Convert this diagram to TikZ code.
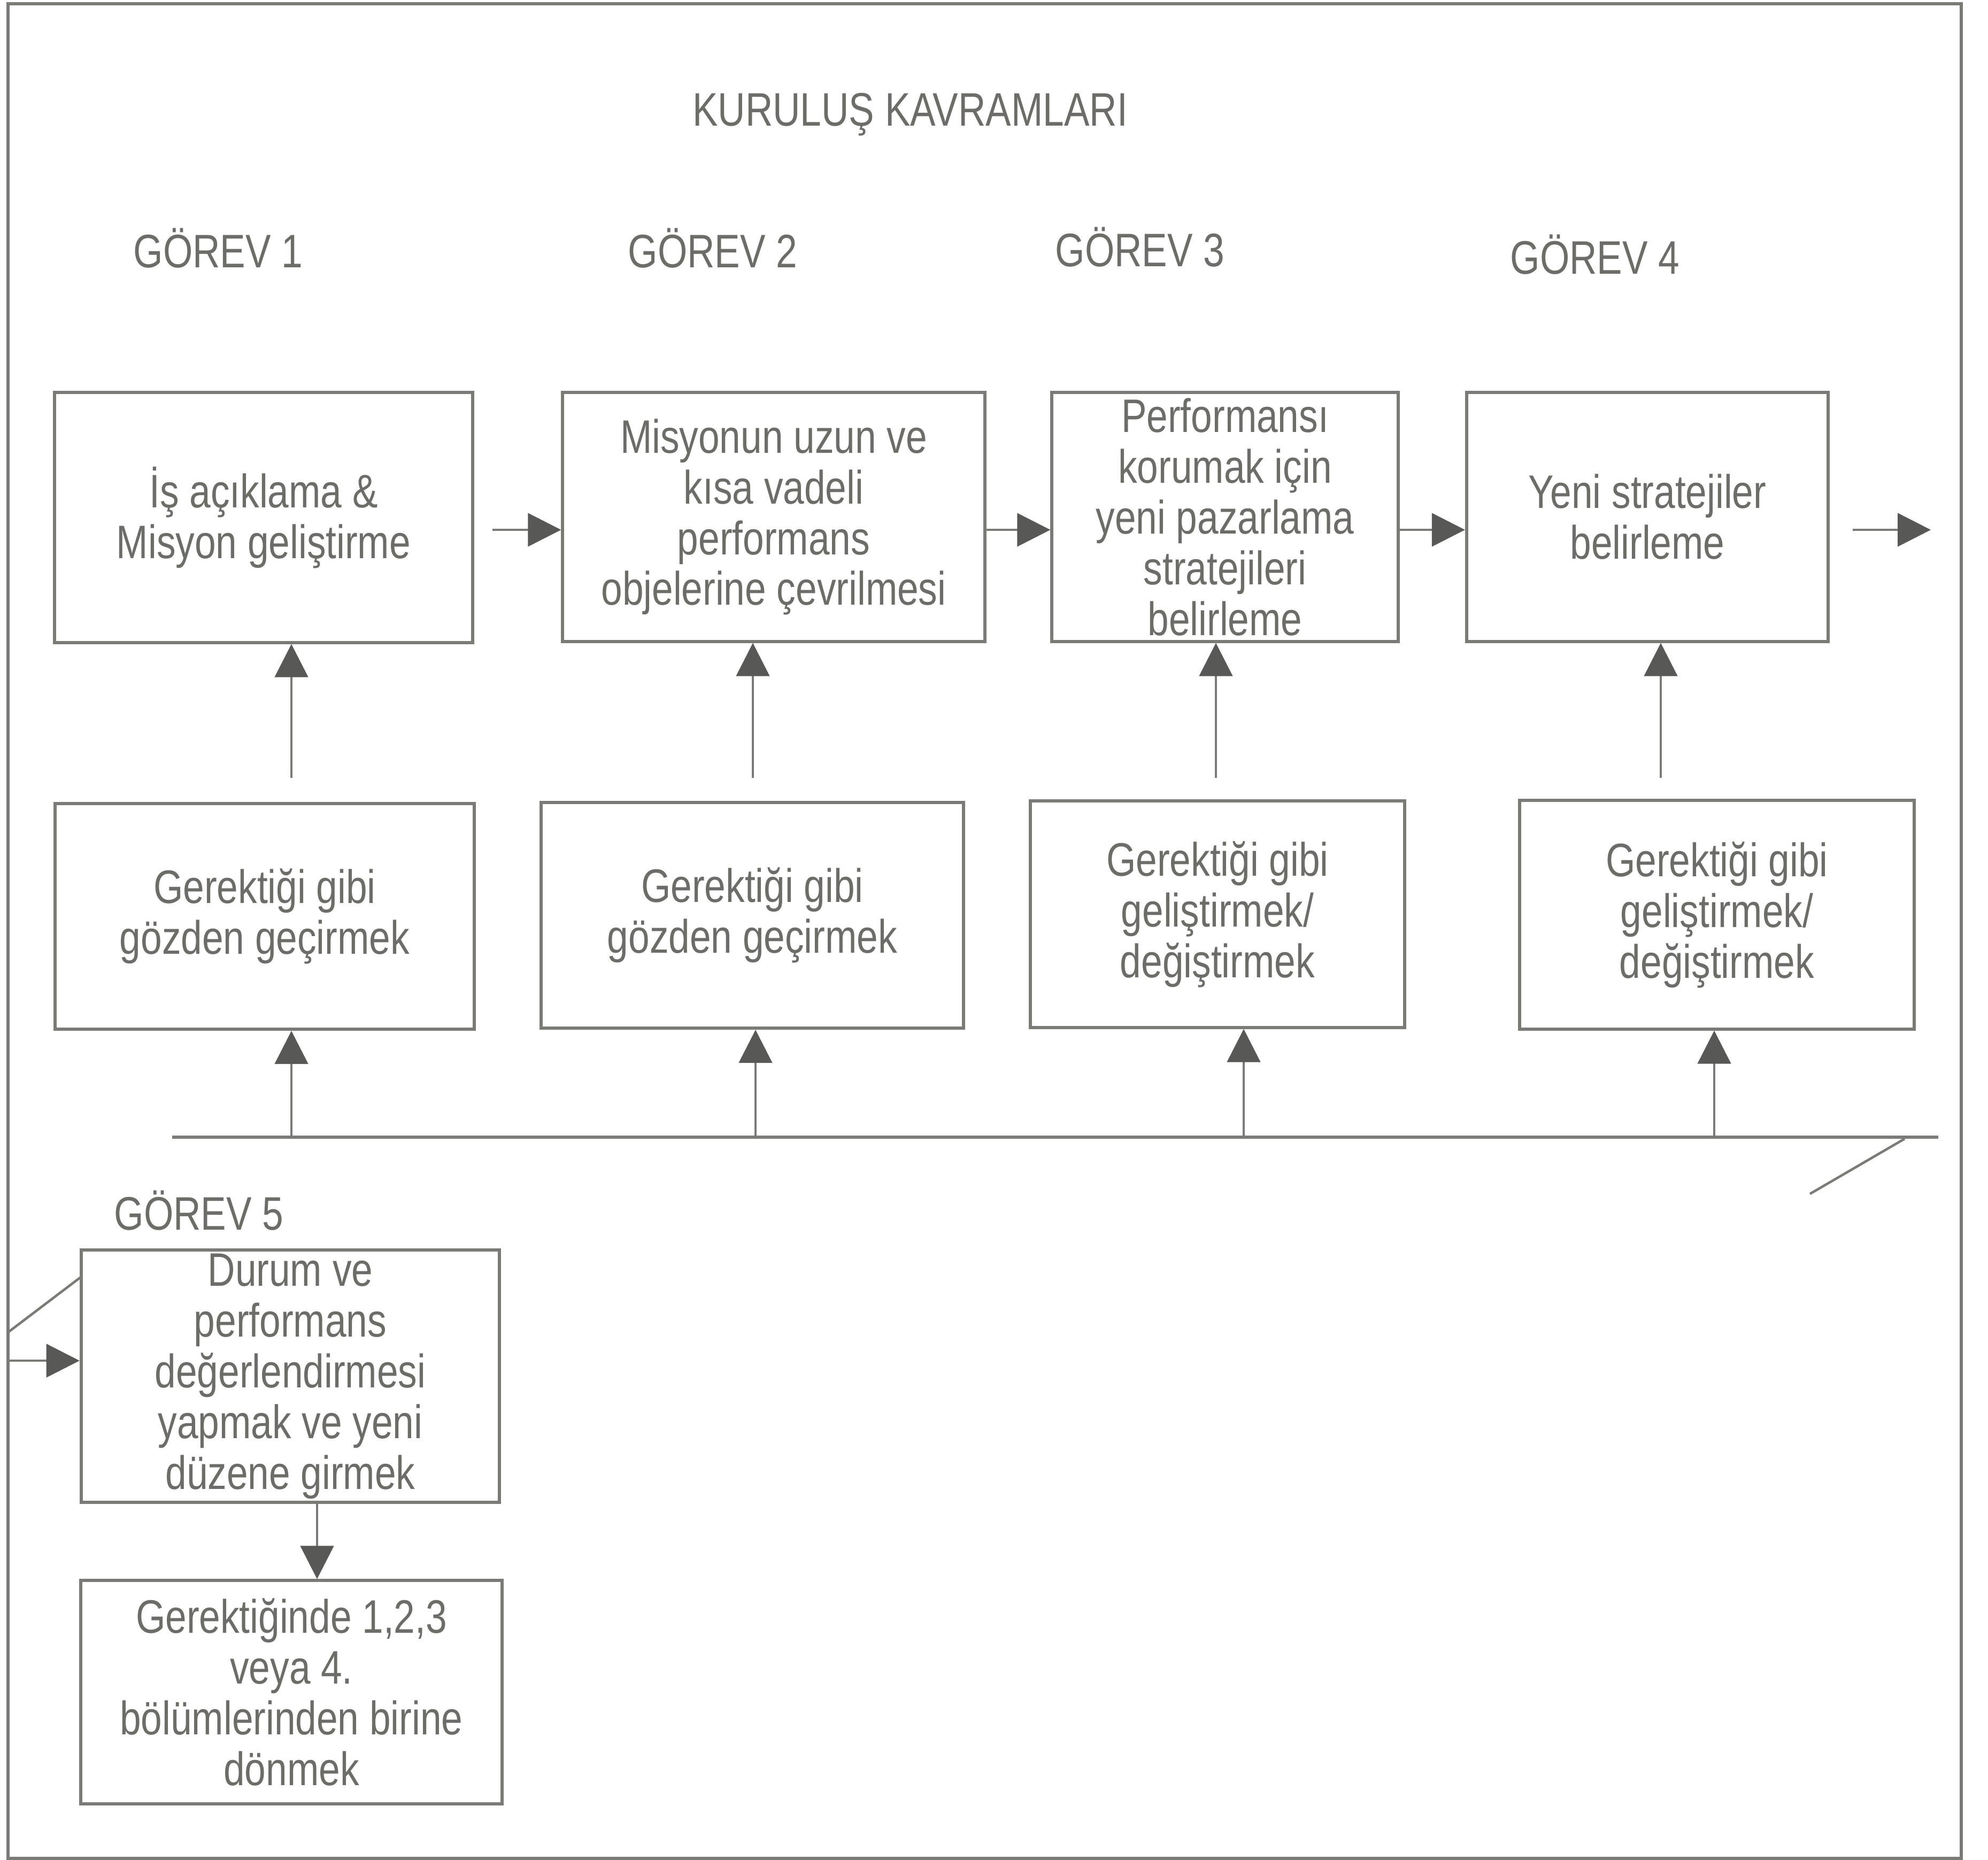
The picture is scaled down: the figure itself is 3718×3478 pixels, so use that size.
\documentclass[tikz,border=0pt]{standalone}
\usepackage{fontspec}
\setmainfont{Liberation Sans}[FakeStretch=0.81]
\usetikzlibrary{arrows.meta}
\definecolor{ink}{RGB}{108,108,104}
\definecolor{rule}{RGB}{122,122,118}
\definecolor{tip}{RGB}{88,88,86}

\begin{document}
\begin{tikzpicture}[x=0.01cm,y=-0.01cm,
  kutu/.style={draw=rule, line width=1.7pt, inner sep=0pt, align=center,
    text=ink, font=\fontsize{25}{27}\selectfont},
  baslik/.style={text=ink, font=\fontsize{25}{27}\selectfont, anchor=base, inner sep=0pt},
  ok/.style={draw=rule, line width=1.3pt, -{Triangle[length=0.62cm,width=0.62cm,color=tip]}},
  cizgi/.style={draw=rule, line width=1.7pt}]

\useasboundingbox (0,0) rectangle (3718,3478);
\draw [rule, line width=1.5pt] (15,7) rectangle (3668,3476);

\node [baslik] (title) at (1702,235) {KURULUŞ KAVRAMLARI};

\node [baslik] (g1) at (408,500) {GÖREV 1};
\node [baslik] (g2) at (1333,500) {GÖREV 2};
\node [baslik] (g3) at (2132,498) {GÖREV 3};
\node [baslik] (g4) at (2983,512) {GÖREV 4};

% the first row
\node [kutu, minimum width=7.82cm, minimum height=4.67cm] (b1) at (493,968)
  {İş açıklama \&\\Misyon geliştirme};
\node [kutu, minimum width=7.89cm, minimum height=4.65cm] (b2) at (1447,967)
  {Misyonun uzun ve\\kısa vadeli\\performans\\objelerine çevrilmesi};
\node [kutu, minimum width=6.47cm, minimum height=4.65cm] (b3) at (2291,967)
  {Performansı\\korumak için\\yeni pazarlama\\stratejileri\\belirleme};
\node [kutu, minimum width=6.76cm, minimum height=4.65cm] (b4) at (3081,967)
  {Yeni stratejiler\\belirleme};

% the second row
\node [kutu, minimum width=7.83cm, minimum height=4.22cm] (c1) at (495,1714)
  {Gerektiği gibi\\gözden geçirmek};
\node [kutu, minimum width=7.90cm, minimum height=4.22cm] (c2) at (1407,1712)
  {Gerektiği gibi\\gözden geçirmek};
\node [kutu, minimum width=6.99cm, minimum height=4.23cm] (c3) at (2277,1710)
  {Gerektiği gibi\\geliştirmek/\\değiştirmek};
\node [kutu, minimum width=7.37cm, minimum height=4.27cm] (c4) at (3211,1711)
  {Gerektiği gibi\\geliştirmek/\\değiştirmek};

\coordinate (sira) at (0,991);
\draw [ok, shorten <=0.34cm] (b1.east |- sira) -- (b2.west |- sira);
\draw [ok] (b2.east |- sira) -- (b3.west |- sira);
\draw [ok] (b3.east |- sira) -- (b4.west |- sira);
\coordinate (cikis) at (3611,991);
\draw [ok, shorten <=0.43cm] (b4.east |- sira) -- (cikis);

\foreach \n/\x in {1/545, 2/1408, 3/2274, 4/3106}
{
  \coordinate (k\n) at (\x,1455);
  \draw [ok] (k\n) -- (k\n |- b\n.south);
}

% the line under the boxes
\coordinate (hat1) at (322,2127);
\coordinate (hat2) at (3625,2127);
\draw [cizgi] (hat1) -- (hat2);
\coordinate (egik1) at (3562,2130);
\coordinate (egik2) at (3385,2233);
\draw [cizgi, line width=1.3pt] (egik1) -- (egik2);

\foreach \n/\x in {1/545, 2/1413, 3/2326, 4/3206}
{
  \coordinate (h\n) at (\x,2127);
  \draw [ok] (h\n) -- (h\n |- c\n.south);
}

% the fifth task
\node [baslik] (g5) at (372,2300) {GÖREV 5};
\node [kutu, minimum width=7.82cm, minimum height=4.72cm] (d1) at (543,2574)
  {Durum ve\\performans\\değerlendirmesi\\yapmak ve yeni\\düzene girmek};
\node [kutu, minimum width=7.87cm, minimum height=4.17cm] (d2) at (545,3165)
  {Gerektiğinde 1,2,3\\veya 4.\\bölümlerinden birine\\dönmek};

\coordinate (k5) at (593,0);
\draw [ok] (d1.south -| k5) -- (d2.north -| k5);

\coordinate (sol1) at (15,2492);
\coordinate (sol2) at (15,2545);
\coordinate (sol3) at (152,2388);
\draw [cizgi, line width=1.3pt] (sol1) -- (sol3);
\draw [ok] (sol2) -- (sol2 -| d1.west);

\end{tikzpicture}
\end{document}
